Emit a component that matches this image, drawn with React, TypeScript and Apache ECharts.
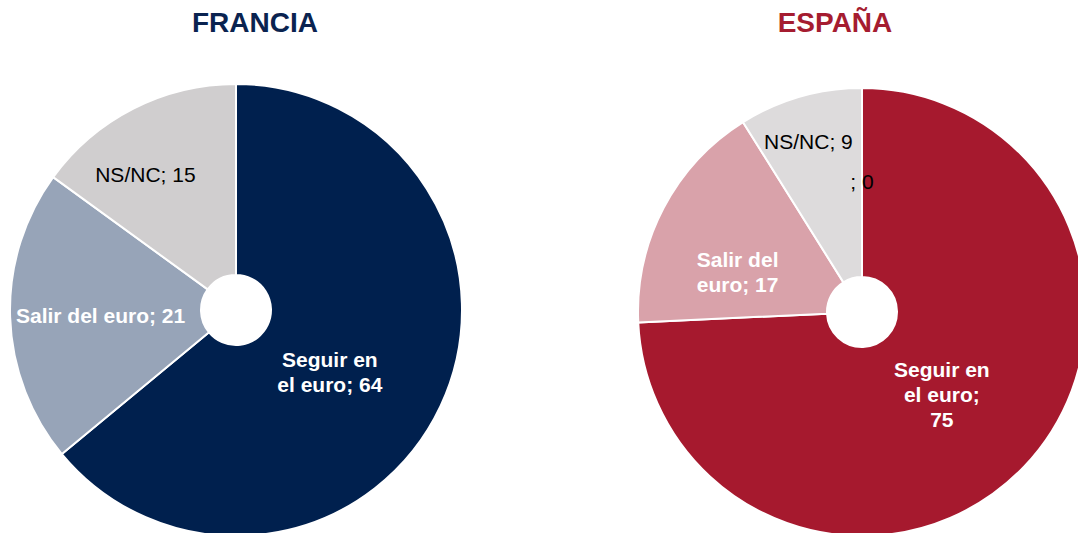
import React, { useEffect, useRef } from "react";
import * as echarts from "echarts";

const titles = ["FRANCIA", "ESPAÑA"];
const franceCategories = ["Seguir en el euro", "Salir del euro", "NS/NC"];
const franceValues = [64, 21, 15];
const spainCategories = ["Seguir en el euro", "Salir del euro", "NS/NC", ""];
const spainValues = [75, 17, 9, 0];

const FONT = '"Liberation Sans", Arial, Helvetica, sans-serif';

export default function App() {
  const ref = useRef<HTMLDivElement>(null);
  useEffect(() => {
    document.body.style.margin = "0";
    if (!ref.current) return;
    const chart = echarts.init(ref.current, null, { renderer: "svg" });

    const whiteBold = { color: "#ffffff", fontWeight: "bold" as const };
    const blackNormal = { color: "#000000", fontWeight: "normal" as const };

    const franceStyle = [
      { color: "#00204E", label: { ...whiteBold, offset: [-27, 5], fmt: (n: string, v: number) => "Seguir en\nel euro; " + v } },
      { color: "#97A4B8", label: { ...whiteBold, offset: [-2, 1], fmt: (n: string, v: number) => n + "; " + v } },
      { color: "#D0CECF", label: { ...blackNormal, offset: [-30, -17], fmt: (n: string, v: number) => n + "; " + v } },
    ];
    const spainStyle = [
      { color: "#A6192E", label: { ...whiteBold, offset: [-16, -9], fmt: (n: string, v: number) => "Seguir en\nel euro;\n" + v } },
      { color: "#D9A2AA", label: { ...whiteBold, offset: [-7, 21], fmt: (n: string, v: number) => "Salir del\neuro; " + v } },
      { color: "#DDDBDC", label: { ...blackNormal, offset: [-17, -43], fmt: (n: string, v: number) => n + "; " + v } },
      { color: "#DDDBDC", label: { ...blackNormal, offset: [0, 2], fmt: (n: string, v: number) => n + "; " + v } },
    ];

    const build = (cats: string[], vals: number[], styles: any[]) =>
      cats.map((name, i) => {
        const s = styles[i];
        const fmt = s.label.fmt;
        return {
          name,
          value: vals[i],
          itemStyle: { color: s.color },
          label: {
            color: s.label.color,
            fontWeight: s.label.fontWeight,
            offset: s.label.offset,
            formatter: (p: any) => fmt(p.name, p.value),
          },
        };
      });

    const seriesBase = {
      type: "pie" as const,
      startAngle: 90,
      clockwise: true,
      avoidLabelOverlap: false,
      silent: true,
      itemStyle: { borderColor: "#ffffff", borderWidth: 2 },
      label: {
        show: true,
        position: "inside" as const,
        fontFamily: FONT,
        fontSize: 21,
        lineHeight: 25,
        align: "center" as const,
      },
      labelLine: { show: false },
      emphasis: { disabled: true },
    };

    chart.setOption({
      animation: false,
      backgroundColor: "#ffffff",
      graphic: [
        {
          type: "text",
          x: 255,
          y: 22,
          style: {
            text: titles[0],
            fill: "#0A2350",
            font: `bold 28px ${FONT}`,
            textAlign: "center",
            textVerticalAlign: "middle",
          },
        },
        {
          type: "text",
          x: 835,
          y: 22,
          style: {
            text: titles[1],
            fill: "#A51C30",
            font: `bold 28px ${FONT}`,
            textAlign: "center",
            textVerticalAlign: "middle",
          },
        },
      ],
      series: [
        {
          ...seriesBase,
          name: titles[0],
          center: [236, 310],
          radius: [35, 226],
          data: build(franceCategories, franceValues, franceStyle),
        },
        {
          ...seriesBase,
          name: titles[1],
          center: [862, 312],
          radius: [35, 224],
          data: build(spainCategories, spainValues, spainStyle),
        },
      ],
    });
    return () => chart.dispose();
  }, []);
  return <div ref={ref} style={{ width: 1078, height: 533 }} />;
}
